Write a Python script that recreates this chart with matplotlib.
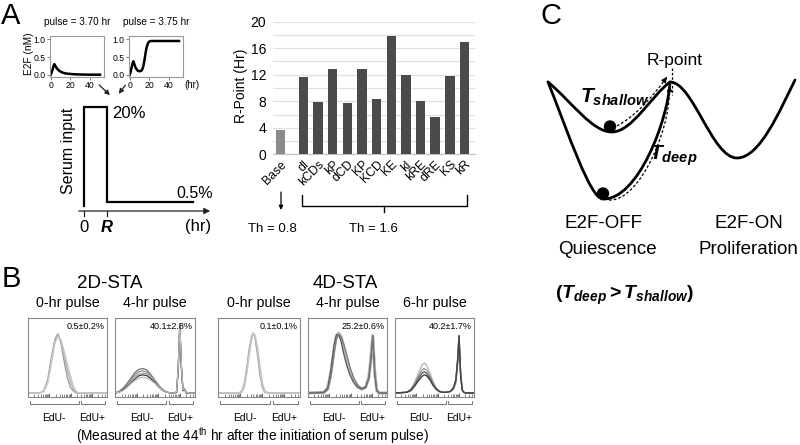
import numpy as np
import matplotlib.pyplot as plt
from matplotlib.patches import Circle, FancyArrowPatch, PathPatch
from matplotlib.path import Path

plt.rcParams['font.family'] = ['Liberation Sans', 'DejaVu Sans']
plt.rcParams['mathtext.fontset'] = 'custom'
plt.rcParams['mathtext.rm'] = 'Liberation Sans'
plt.rcParams['mathtext.it'] = 'Liberation Sans:italic'
plt.rcParams['mathtext.bf'] = 'Liberation Sans:bold'
plt.rcParams['mathtext.bfit'] = 'Liberation Sans:italic:bold'

# ---- panel A: E2F time courses (hr, nM)
pulse_titles = ['pulse = 3.70 hr', 'pulse = 3.75 hr']
t_370 = [0, 1, 2, 3, 3.7, 5, 6, 8, 10, 12, 15, 20, 25, 30, 40, 50]
e2f_370 = [0.0, 0.07, 0.16, 0.26, 0.3, 0.24, 0.19, 0.13, 0.09, 0.065, 0.04, 0.025, 0.015, 0.01, 0.005, 0.005]
t_375 = [0, 1, 2, 3, 3.75, 5, 6, 8, 10, 12, 13, 14, 15, 16, 17, 18, 19, 20, 22, 25, 30, 40, 50]
e2f_375 = [0.0, 0.09, 0.21, 0.33, 0.38, 0.28, 0.2, 0.12, 0.1, 0.12, 0.17, 0.27, 0.42, 0.6, 0.75, 0.85, 0.91, 0.94, 0.95, 0.95, 0.95, 0.95, 0.95]

# serum input schematic (time in units of R, level fraction of 20%)
serum_t = [0, 0, 1, 1, 4.74]
serum_lvl = [0.05, 1.0, 1.0, 0.087, 0.087]

# ---- panel A: R-point bar chart
params = ['Base', 'dI', 'kCDs', 'kP', 'dCD', 'KP', 'KCD', 'KE', 'kI', 'kRE', 'dRE', 'KS', 'kR']
rpoint = [3.6, 11.6, 7.9, 12.9, 7.8, 12.9, 8.3, 17.8, 12.0, 8.0, 5.7, 11.8, 17.0]

# ---- panel B: EdU histograms (x, y as fraction of the box)
hist_titles = ['0-hr pulse', '4-hr pulse', '0-hr pulse', '4-hr pulse', '6-hr pulse']
hist_pct = ['0.5±0.2%', '40.1±2.8%', '0.1±0.1%', '25.2±0.6%', '40.2±1.7%']
hx1 = [0.0, 0.15, 0.2, 0.25, 0.3, 0.34, 0.38, 0.42, 0.46, 0.5, 0.54, 0.58, 0.62, 0.7, 1.0]
h1 = [[0.05, 0.05, 0.08, 0.22, 0.52, 0.73, 0.80, 0.67, 0.44, 0.24, 0.12, 0.07, 0.05, 0.05, 0.05],
      [0.05, 0.05, 0.07, 0.19, 0.47, 0.70, 0.78, 0.70, 0.52, 0.34, 0.19, 0.09, 0.05, 0.05, 0.05],
      [0.05, 0.05, 0.07, 0.18, 0.45, 0.68, 0.77, 0.72, 0.57, 0.41, 0.26, 0.12, 0.06, 0.05, 0.05]]
hx2 = [0.0, 0.05, 0.1, 0.15, 0.2, 0.25, 0.3, 0.35, 0.4, 0.45, 0.5, 0.55, 0.6, 0.65, 0.7, 0.74,
       0.77, 0.79, 0.81, 0.83, 0.85, 0.87, 0.89, 0.92, 1.0]
h2 = [[0.05, 0.07, 0.11, 0.17, 0.24, 0.31, 0.35, 0.36, 0.34, 0.28, 0.21, 0.14, 0.09, 0.06, 0.05, 0.05, 0.07, 0.38, 0.93, 0.40, 0.09, 0.11, 0.06, 0.05, 0.05],
      [0.05, 0.07, 0.10, 0.15, 0.22, 0.28, 0.32, 0.33, 0.31, 0.27, 0.21, 0.14, 0.09, 0.06, 0.05, 0.05, 0.07, 0.35, 0.90, 0.38, 0.09, 0.10, 0.06, 0.05, 0.05],
      [0.05, 0.06, 0.09, 0.14, 0.20, 0.26, 0.29, 0.30, 0.29, 0.25, 0.19, 0.13, 0.08, 0.06, 0.05, 0.05, 0.06, 0.33, 0.88, 0.36, 0.08, 0.09, 0.06, 0.05, 0.05],
      [0.05, 0.06, 0.09, 0.13, 0.18, 0.23, 0.27, 0.28, 0.27, 0.23, 0.18, 0.12, 0.08, 0.06, 0.05, 0.05, 0.06, 0.34, 0.91, 0.37, 0.08, 0.10, 0.05, 0.05, 0.05],
      [0.05, 0.06, 0.08, 0.12, 0.17, 0.21, 0.24, 0.25, 0.24, 0.21, 0.17, 0.12, 0.08, 0.06, 0.05, 0.05, 0.07, 0.36, 0.92, 0.39, 0.09, 0.11, 0.06, 0.05, 0.05]]
hx3 = [0.0, 0.25, 0.29, 0.32, 0.35, 0.38, 0.41, 0.43, 0.45, 0.48, 0.51, 0.54, 0.57, 0.62, 1.0]
h3 = [[0.05, 0.05, 0.07, 0.16, 0.36, 0.60, 0.77, 0.81, 0.76, 0.55, 0.30, 0.13, 0.06, 0.05, 0.05],
      [0.05, 0.05, 0.06, 0.13, 0.31, 0.55, 0.74, 0.80, 0.78, 0.62, 0.38, 0.17, 0.07, 0.05, 0.05]]
hx4 = [0.0, 0.2, 0.25, 0.29, 0.33, 0.36, 0.39, 0.42, 0.45, 0.49, 0.53, 0.58, 0.63, 0.68, 0.73,
       0.77, 0.795, 0.82, 0.845, 0.87, 0.9, 1.0]
h4 = [[0.05, 0.06, 0.11, 0.32, 0.62, 0.78, 0.81, 0.74, 0.60, 0.44, 0.31, 0.20, 0.13, 0.10, 0.13, 0.26, 0.50, 0.78, 0.32, 0.09, 0.05, 0.05],
      [0.05, 0.06, 0.10, 0.28, 0.58, 0.76, 0.80, 0.77, 0.66, 0.50, 0.35, 0.22, 0.14, 0.10, 0.12, 0.24, 0.47, 0.77, 0.30, 0.08, 0.05, 0.05],
      [0.05, 0.06, 0.12, 0.35, 0.66, 0.79, 0.78, 0.70, 0.56, 0.40, 0.28, 0.18, 0.12, 0.10, 0.12, 0.23, 0.45, 0.76, 0.29, 0.08, 0.05, 0.05],
      [0.05, 0.05, 0.09, 0.26, 0.55, 0.74, 0.79, 0.76, 0.68, 0.54, 0.38, 0.24, 0.15, 0.11, 0.13, 0.25, 0.49, 0.78, 0.31, 0.09, 0.05, 0.05]]
hx5 = [0.0, 0.15, 0.2, 0.25, 0.3, 0.34, 0.37, 0.4, 0.44, 0.48, 0.52, 0.56, 0.6, 0.65, 0.7, 0.74,
       0.77, 0.795, 0.81, 0.83, 0.85, 0.87, 0.9, 1.0]
h5 = [[0.05, 0.06, 0.10, 0.19, 0.31, 0.40, 0.43, 0.40, 0.31, 0.20, 0.12, 0.08, 0.06, 0.06, 0.07, 0.10, 0.18, 0.45, 0.78, 0.30, 0.09, 0.06, 0.05, 0.05],
      [0.05, 0.06, 0.09, 0.17, 0.27, 0.34, 0.36, 0.34, 0.27, 0.18, 0.11, 0.07, 0.06, 0.06, 0.07, 0.10, 0.19, 0.46, 0.77, 0.31, 0.10, 0.06, 0.05, 0.05],
      [0.05, 0.06, 0.09, 0.15, 0.24, 0.30, 0.32, 0.30, 0.24, 0.16, 0.10, 0.07, 0.06, 0.06, 0.07, 0.11, 0.20, 0.48, 0.78, 0.30, 0.09, 0.06, 0.05, 0.05],
      [0.05, 0.06, 0.08, 0.14, 0.21, 0.26, 0.28, 0.27, 0.22, 0.15, 0.10, 0.07, 0.06, 0.06, 0.07, 0.12, 0.22, 0.50, 0.77, 0.29, 0.09, 0.06, 0.05, 0.05]]

# ---- panel C: landscape (cubic bezier knots, pixel space)
shallow_knots = [(548, 82), (572, 102), (592, 132), (612, 132), (632, 132), (652, 95), (670, 82),
                 (693, 82), (712, 158), (737, 158), (760, 158), (780, 110), (795, 80)]
deep_knots = [(548, 82), (568, 132), (590, 199), (603, 199), (638, 200), (668, 120), (670, 82)]

W, H = 800, 445
fig = plt.figure(figsize=(8, 4.45), dpi=100)


def px_axes(x0, y0, x1, y1):
    return fig.add_axes([x0 / W, 1 - y1 / H, (x1 - x0) / W, (y1 - y0) / H])


ov = fig.add_axes([0, 0, 1, 1])
ov.set_xlim(0, W)
ov.set_ylim(H, 0)
ov.axis('off')

# panel letters
for lab, (x, y) in zip('ABC', [(11, 16), (11, 279), (551, 16)]):
    ov.text(x, y, lab, fontsize=21, ha='center', va='center')

# ---- E2F mini plots
for (px0, px1), t, e, ttl in zip([(50, 104), (129, 183)], [t_370, t_375], [e2f_370, e2f_375], pulse_titles):
    ax = px_axes(px0, 36, px1, 77)
    ax.plot(t, e, color='black', lw=1.8)
    ax.set_xlim(-0.7, 54)
    ax.set_ylim(-0.06, 1.09)
    ax.set_xticks([0, 20, 40])
    ax.set_yticks([0, 0.5, 1.0])
    ax.set_yticklabels(['0.0', '0.5', '1.0'])
    ax.tick_params(labelsize=6.2, length=2, pad=1, width=0.6, color='#666666')
    for s in ax.spines.values():
        s.set_color('#999999')
        s.set_linewidth(0.8)
    ov.text((px0 + px1) / 2, 22, ttl, fontsize=7.2, ha='center', va='center')
ov.text(29, 54, 'E2F (nM)', fontsize=7.3, rotation=90, ha='center', va='center')
ov.text(192, 85, '(hr)', fontsize=7, ha='center', va='center')
ov.annotate('', xy=(112, 97), xytext=(97, 83),
            arrowprops=dict(arrowstyle='-|>', color='#222222', lw=0.9, mutation_scale=7))
ov.annotate('', xy=(117, 96), xytext=(127, 83),
            arrowprops=dict(arrowstyle='-|>', color='#222222', lw=0.9, mutation_scale=7))

# ---- serum input schematic
axs = px_axes(76, 100, 212, 211)
axs.set_xlim(-0.35, 5.57)
axs.set_ylim(0, 1.0 + 7 / 104)
axs.axis('off')
axs.plot(serum_t, serum_lvl, color='black', lw=1.6, solid_joinstyle='miter')
ov.annotate('', xy=(213, 211), xytext=(76, 211),
            arrowprops=dict(arrowstyle='-|>', color='#222222', lw=0.9, mutation_scale=9))
for xt in (84, 107):
    ov.plot([xt, xt], [211, 216], color='#222222', lw=0.9)
ov.text(84, 227, '0', fontsize=12, ha='center', va='center')
ov.text(107, 227, 'R', fontsize=12, ha='center', va='center', fontweight='bold', style='italic')
ov.text(198, 227, '(hr)', fontsize=12, ha='center', va='center')
ov.text(112, 114, '20%', fontsize=12, ha='left', va='center')
ov.text(213, 193, '0.5%', fontsize=11.5, ha='right', va='center')
ov.text(69, 151, 'Serum input', fontsize=11.5, rotation=90, ha='center', va='center')

# ---- R-point bar chart
GAP = 1.57
pos = [0] + [GAP + i for i in range(len(params) - 1)]
bar_cols = ['#8a8a8a'] + ['#4b4b4b'] * (len(params) - 1)
axb = px_axes(273, 21.7, 475, 154.3)
axb.bar(pos, rpoint, width=0.65, color=bar_cols, zorder=3)
axb.set_xlim(-0.51, 13.29)
axb.set_ylim(0, 20)
axb.set_yticks(range(0, 21, 4))
axb.set_yticks(range(0, 21, 2), minor=True)
axb.grid(axis='y', which='both', color='#e0e0e0', lw=0.9, zorder=0)
for k in ('left', 'top', 'right'):
    axb.spines[k].set_visible(False)
axb.spines['bottom'].set_color('#c0c0c0')
axb.tick_params(axis='y', which='both', length=0, labelsize=10, pad=5)
axb.set_xticks(pos)
axb.set_xticklabels(params, rotation=45, ha='right', va='top', rotation_mode='anchor', fontsize=8.8)
axb.tick_params(axis='x', length=0, pad=3)
ov.text(241, 86, 'R-Point (Hr)', fontsize=10, rotation=90, ha='center', va='center')

ov.annotate('', xy=(281, 210), xytext=(281, 192),
            arrowprops=dict(arrowstyle='-|>', color='black', lw=0.9, mutation_scale=6,
                            shrinkA=0, shrinkB=0))
ov.plot([302, 302, 467, 467], [195, 206, 206, 195], color='black', lw=1.0)
ov.plot([384, 384], [206, 212], color='black', lw=1.0)
ov.text(272, 229, 'Th = 0.8', fontsize=9.5, ha='center', va='center')
ov.text(373, 229, 'Th = 1.6', fontsize=9.5, ha='center', va='center')

# ---- panel B histograms
boxes = [(28, 107), (115, 195), (218, 300), (308, 387), (395, 474)]
hist_x = [hx1, hx2, hx3, hx4, hx5]
hist_y = [h1, h2, h3, h4, h5]
styles = [
    [('#9a9a9a', 1.0), ('#b5b5b5', 1.0), ('#c8c8c8', 1.0)],
    [('#6e6e6e', 0.9), ('#8a8a8a', 0.9), ('#a6a6a6', 0.9), ('#404040', 0.9), ('#bdbdbd', 0.9)],
    [('#8f8f8f', 1.0), ('#c4c4c4', 1.4)],
    [('#c2c2c2', 2.2), ('#b0b0b0', 1.8), ('#555555', 0.8), ('#777777', 0.8)],
    [('#b8b8b8', 1.0), ('#9a9a9a', 1.0), ('#666666', 1.0), ('#444444', 1.0)],
]
dec = 0.27
major_t = [k * dec for k in range(4)]
minor_t = [m + dec * np.log10(j) for m in major_t for j in range(2, 10) if m + dec * np.log10(j) < 1]
for (bx0, bx1), xs, ys, sty, ttl, pct in zip(boxes, hist_x, hist_y, styles, hist_titles, hist_pct):
    ax = px_axes(bx0, 318, bx1, 397)
    for yv, (c, lw) in zip(ys, sty):
        ax.plot(xs, yv, color=c, lw=lw)
    ax.set_xlim(0, 1)
    ax.set_ylim(0, 1)
    ax.set_yticks([])
    ax.set_xticks(major_t)
    ax.set_xticks(minor_t, minor=True)
    ax.set_xticklabels([])
    ax.tick_params(axis='x', which='major', direction='in', length=3, width=0.6, color='#555555')
    ax.tick_params(axis='x', which='minor', direction='in', length=2, width=0.5, color='#555555')
    for s in ax.spines.values():
        s.set_color('#888888')
        s.set_linewidth(0.8)
    ax.text(0.97, 0.89, pct, transform=ax.transAxes, fontsize=6.5, ha='right', va='center')
    ax.text(0.5, 1.19, ttl, transform=ax.transAxes, fontsize=10.3, ha='center', va='center')
    for g0, g1 in ((0.03, 0.64), (0.67, 0.97)):
        ax.plot([g0, g0, g1, g1], [-0.05, -0.09, -0.09, -0.05], color='#777777', lw=0.7,
                transform=ax.transAxes, clip_on=False)
    ax.text(0.33, -0.26, 'EdU-', transform=ax.transAxes, fontsize=7.5, ha='center', va='center')
    ax.text(0.81, -0.26, 'EdU+', transform=ax.transAxes, fontsize=7.5, ha='center', va='center')

ov.text(110, 283, '2D-STA', fontsize=13.5, ha='center', va='center')
ov.text(345, 283, '4D-STA', fontsize=13.5, ha='center', va='center')
ov.text(252, 436, '(Measured at the 44$^{\\mathrm{th}}$ hr after the initiation of serum pulse)',
        fontsize=9.8, ha='center', va='center')

# ---- panel C landscape
for knots in (shallow_knots, deep_knots):
    codes = [Path.MOVETO] + [Path.CURVE4] * (len(knots) - 1)
    ov.add_patch(PathPatch(Path(knots, codes), fill=False, lw=2.0, color='black', capstyle='round'))
ov.add_patch(Circle((610, 126.5), 5.5, color='black', zorder=4))
ov.add_patch(Circle((603, 193.5), 5.5, color='black', zorder=4))


def dashed_arrow(pts):
    codes = [Path.MOVETO] + [Path.CURVE4] * 3
    ov.add_patch(PathPatch(Path(pts, codes), fill=False, lw=0.9, color='black',
                           linestyle=(0, (2.2, 1.6))))
    end = np.array(pts[-1], float)
    d = end - np.array(pts[-2], float)
    d /= np.hypot(*d)
    ov.add_patch(FancyArrowPatch(tuple(end - 4 * d), tuple(end), arrowstyle='-|>',
                                 mutation_scale=8, color='black', lw=0.8))


dashed_arrow([(617, 126), (635, 116), (650, 100), (667, 77)])
dashed_arrow([(609, 200), (641, 202), (673, 122), (669, 86)])
ov.plot([672, 672], [68, 95], color='black', lw=0.9, linestyle=(0, (2, 1.5)))
ov.text(675, 60, 'R-point', fontsize=12.5, ha='center', va='center')
ov.text(580, 97, r'$\mathbfit{T}_{\mathbfit{shallow}}$', fontsize=15, ha='left', va='center')
ov.text(649, 156, r'$\mathbfit{T}_{\mathbfit{deep}}$', fontsize=15, ha='left', va='center')
ov.text(603, 224, 'E2F-OFF', fontsize=13.5, ha='center', va='center')
ov.text(607, 250, 'Quiescence', fontsize=13.5, ha='center', va='center')
ov.text(749, 224, 'E2F-ON', fontsize=13.5, ha='center', va='center')
ov.text(748, 250, 'Proliferation', fontsize=13.5, ha='center', va='center')
ov.text(555, 295, r'$\mathbf{(}\mathbfit{T}_{\mathbfit{deep}}\mathbf{>}\mathbfit{T}_{\mathbfit{shallow}}\mathbf{)}$',
        fontsize=14, ha='left', va='center')

fig.savefig('out.png', dpi=100)
